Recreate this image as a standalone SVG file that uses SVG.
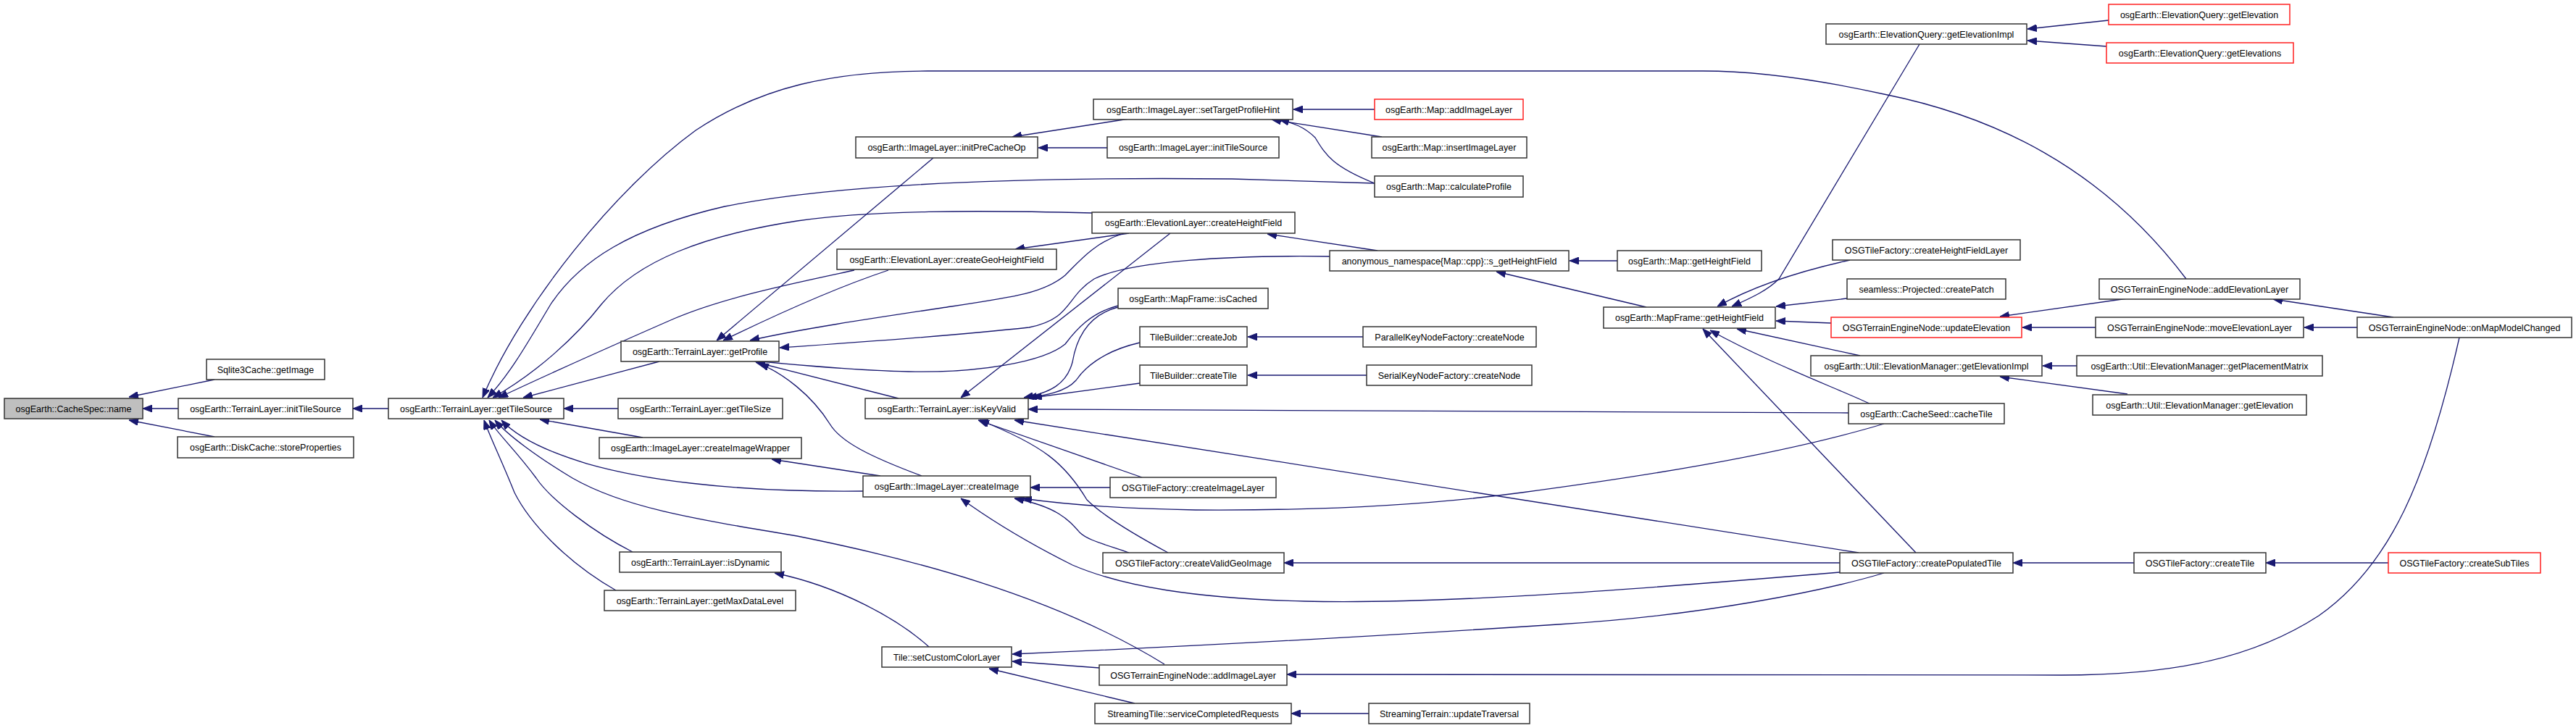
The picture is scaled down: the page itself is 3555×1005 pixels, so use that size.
<svg xmlns="http://www.w3.org/2000/svg" width="3555" height="1005" viewBox="0 0 3555 1005">
<defs>
<marker id="a" markerWidth="13" markerHeight="10" refX="13" refY="5" orient="auto" markerUnits="userSpaceOnUse"><path d="M0,0 L13,5 L0,10 z" fill="#191970" stroke="#191970" stroke-width="1"/></marker>
</defs>
<style>
.n rect{fill:#fff;stroke:#333;stroke-width:1.5}
.r rect{stroke:#ff2020}
.root rect{fill:#bfbfbf}
text{font-family:"Liberation Sans",Arial,sans-serif;font-size:12.5px;text-anchor:middle;fill:#000}
#edges path{fill:none;stroke:#191970;stroke-width:1.3;marker-end:url(#a)}
</style>
<rect width="3555" height="1005" fill="#fff"/>
<g id="edges">
<path d="M246,564 L197,564"/>
<path d="M296,524 L178,548"/>
<path d="M296,603 L178,580"/>
<path d="M536,564 L487,564"/>
<path d="M910,499 L722,549"/>
<path d="M853,564 L778,564"/>
<path d="M887,604 L745,579"/>
<path d="M1191,678 C1000,680 880,660 810,640 C760,625 715,605 692,580"/>
<path d="M1607,917 C1450,820 1250,770 1100,740 C950,715 860,700 790,660 C740,630 700,600 683,580"/>
<path d="M873,762 C820,735 760,690 740,660 C712,622 688,600 675,580"/>
<path d="M850,815 C780,775 730,720 710,680 C692,635 677,605 668,580"/>
<path d="M1897,253 L1700,247 C1400,244 1150,255 1000,285 C870,315 800,360 760,420 C730,470 705,515 673,549"/>
<path d="M1507,294 C1350,290 1200,290 1100,305 C970,325 880,360 830,420 C795,465 740,515 680,549"/>
<path d="M1179,373 C1100,390 1000,410 930,440 C850,475 760,515 688,549"/>
<path d="M3017,385 C2900,230 2750,160 2600,130 C2500,108 2420,98 2350,98 L1280,98 C1150,98 1050,120 960,180 C850,260 720,420 666,549"/>
<path d="M1551,322 C1510,335 1490,360 1470,380 C1440,405 1400,410 1300,425 C1200,440 1100,455 1035,470"/>
<path d="M1558,322 L1401,344"/>
<path d="M1615,322 L1326,549"/>
<path d="M1288,218 L989,470"/>
<path d="M1226,373 C1160,395 1080,430 998,470"/>
<path d="M1835,354 C1700,352 1560,360 1510,385 C1470,410 1480,440 1420,452 C1300,465 1150,475 1076,480"/>
<path d="M1543,422 C1505,432 1485,455 1470,475 C1440,500 1350,515 1254,513 C1170,511 1090,503 1040,498"/>
<path d="M1543,424 C1500,435 1485,470 1480,500 C1472,530 1450,542 1413,549"/>
<path d="M1573,473 C1520,485 1495,510 1485,525 C1470,542 1440,546 1418,549"/>
<path d="M1573,529 L1425,549"/>
<path d="M2551,570 L1419,565"/>
<path d="M2565,763 L1400,580"/>
<path d="M1576,659 L1350,580"/>
<path d="M1612,763 C1560,735 1520,710 1500,690 C1470,640 1440,615 1352,580"/>
<path d="M1240,550 L1043,500"/>
<path d="M1272,657 C1200,630 1160,610 1145,585 C1120,545 1080,515 1048,502"/>
<path d="M1215,657 L1065,634"/>
<path d="M1532,673 L1422,673"/>
<path d="M2600,585 C2450,630 2250,660 2100,680 C1950,700 1800,705 1650,704 C1530,702 1460,695 1411,688"/>
<path d="M1558,763 C1520,750 1500,745 1490,735 C1475,718 1460,700 1400,688"/>
<path d="M2539,790 C2300,810 2000,835 1800,830 C1650,826 1550,810 1480,780 C1420,750 1370,720 1326,688"/>
<path d="M2539,777 L1772,777"/>
<path d="M2600,791 C2520,815 2350,850 2150,862 C1950,875 1700,890 1397,903"/>
<path d="M1517,922 L1397,913"/>
<path d="M1566,971 L1365,923"/>
<path d="M1282,893 C1240,855 1160,810 1069,791"/>
<path d="M1889,985 L1782,985"/>
<path d="M3394,466 C3350,660 3300,780 3200,850 C3100,915 2980,932 2845,932 L1776,931"/>
<path d="M2945,777 L2778,777"/>
<path d="M3296,777 L3127,777"/>
<path d="M2644,763 L2350,454"/>
<path d="M2580,557 C2520,530 2440,500 2360,456"/>
<path d="M2567,491 L2397,454"/>
<path d="M2527,446 L2451,443"/>
<path d="M2549,412 L2451,423"/>
<path d="M2553,359 C2480,375 2420,395 2370,423"/>
<path d="M2649,61 L2455,385 C2440,400 2420,410 2390,423"/>
<path d="M2272,424 L2065,375"/>
<path d="M2232,360 L2166,360"/>
<path d="M1901,346 L1749,323"/>
<path d="M2910,28 L2798,40"/>
<path d="M2907,64 L2798,56"/>
<path d="M2936,412 L2760,437"/>
<path d="M2892,452 L2791,452"/>
<path d="M3253,452 L3180,452"/>
<path d="M3303,438 L3137,413"/>
<path d="M2866,505 L2819,505"/>
<path d="M2936,544 L2760,520"/>
<path d="M1558,164 L1397,189"/>
<path d="M1528,204 L1433,204"/>
<path d="M1897,151 L1785,151"/>
<path d="M1907,189 L1755,165"/>
<path d="M1897,253 C1840,230 1830,215 1815,190 C1800,175 1785,170 1766,165"/>
<path d="M1881,465 L1722,465"/>
<path d="M1886,518 L1722,518"/>
</g>
<g id="n_name" class="n root"><rect x="6" y="550" width="191" height="28"/><text x="101.5" y="568.5">osgEarth::CacheSpec::name</text></g>
<g id="n_sqlite" class="n"><rect x="285" y="496" width="163" height="28"/><text x="366.5" y="514.5">Sqlite3Cache::getImage</text></g>
<g id="n_tl_initTileSource" class="n"><rect x="246" y="550" width="241" height="28"/><text x="366.5" y="568.5">osgEarth::TerrainLayer::initTileSource</text></g>
<g id="n_diskcache" class="n"><rect x="245" y="603" width="243" height="29"/><text x="366.5" y="622">osgEarth::DiskCache::storeProperties</text></g>
<g id="n_getTileSource" class="n"><rect x="536" y="550" width="242" height="28"/><text x="657" y="568.5">osgEarth::TerrainLayer::getTileSource</text></g>
<g id="n_getProfile" class="n"><rect x="857" y="471" width="218" height="28"/><text x="966" y="489.5">osgEarth::TerrainLayer::getProfile</text></g>
<g id="n_getTileSize" class="n"><rect x="853" y="550" width="227" height="28"/><text x="966.5" y="568.5">osgEarth::TerrainLayer::getTileSize</text></g>
<g id="n_createImageWrapper" class="n"><rect x="827" y="604" width="279" height="29"/><text x="966.5" y="623">osgEarth::ImageLayer::createImageWrapper</text></g>
<g id="n_isDynamic" class="n"><rect x="855" y="762" width="223" height="28"/><text x="966.5" y="780.5">osgEarth::TerrainLayer::isDynamic</text></g>
<g id="n_getMaxDataLevel" class="n"><rect x="834" y="815" width="264" height="28"/><text x="966" y="833.5">osgEarth::TerrainLayer::getMaxDataLevel</text></g>
<g id="n_initPreCacheOp" class="n"><rect x="1181" y="189" width="251" height="29"/><text x="1306.5" y="208">osgEarth::ImageLayer::initPreCacheOp</text></g>
<g id="n_createGeoHeightField" class="n"><rect x="1155" y="344" width="303" height="28"/><text x="1306.5" y="362.5">osgEarth::ElevationLayer::createGeoHeightField</text></g>
<g id="n_isKeyValid" class="n"><rect x="1194" y="550" width="225" height="28"/><text x="1306.5" y="568.5">osgEarth::TerrainLayer::isKeyValid</text></g>
<g id="n_createImage" class="n"><rect x="1191" y="657" width="231" height="29"/><text x="1306.5" y="676">osgEarth::ImageLayer::createImage</text></g>
<g id="n_setCustomColorLayer" class="n"><rect x="1217" y="893" width="179" height="28"/><text x="1306.5" y="911.5">Tile::setCustomColorLayer</text></g>
<g id="n_setTargetProfileHint" class="n"><rect x="1509" y="137" width="275" height="28"/><text x="1646.5" y="155.5">osgEarth::ImageLayer::setTargetProfileHint</text></g>
<g id="n_il_initTileSource" class="n"><rect x="1528" y="189" width="237" height="29"/><text x="1646.5" y="208">osgEarth::ImageLayer::initTileSource</text></g>
<g id="n_createHeightField" class="n"><rect x="1507" y="293" width="280" height="29"/><text x="1647" y="312">osgEarth::ElevationLayer::createHeightField</text></g>
<g id="n_isCached" class="n"><rect x="1543" y="398" width="207" height="28"/><text x="1646.5" y="416.5">osgEarth::MapFrame::isCached</text></g>
<g id="n_createJob" class="n"><rect x="1573" y="451" width="148" height="28"/><text x="1647" y="469.5">TileBuilder::createJob</text></g>
<g id="n_tb_createTile" class="n"><rect x="1573" y="504" width="148" height="28"/><text x="1647" y="522.5">TileBuilder::createTile</text></g>
<g id="n_createImageLayer" class="n"><rect x="1532" y="659" width="229" height="28"/><text x="1646.5" y="677.5">OSGTileFactory::createImageLayer</text></g>
<g id="n_createValidGeoImage" class="n"><rect x="1522" y="763" width="250" height="28"/><text x="1647" y="781.5">OSGTileFactory::createValidGeoImage</text></g>
<g id="n_eng_addImageLayer" class="n"><rect x="1517" y="918" width="259" height="28"/><text x="1646.5" y="936.5">OSGTerrainEngineNode::addImageLayer</text></g>
<g id="n_serviceCompletedRequests" class="n"><rect x="1511" y="971" width="271" height="28"/><text x="1646.5" y="989.5">StreamingTile::serviceCompletedRequests</text></g>
<g id="n_map_addImageLayer" class="n r"><rect x="1897" y="137" width="205" height="28"/><text x="1999.5" y="155.5">osgEarth::Map::addImageLayer</text></g>
<g id="n_insertImageLayer" class="n"><rect x="1893" y="189" width="214" height="29"/><text x="2000" y="208">osgEarth::Map::insertImageLayer</text></g>
<g id="n_calculateProfile" class="n"><rect x="1897" y="243" width="205" height="29"/><text x="1999.5" y="262">osgEarth::Map::calculateProfile</text></g>
<g id="n_s_getHeightField" class="n"><rect x="1835" y="346" width="330" height="28"/><text x="2000" y="364.5">anonymous_namespace{Map::cpp}::s_getHeightField</text></g>
<g id="n_parallel" class="n"><rect x="1881" y="451" width="239" height="28"/><text x="2000.5" y="469.5">ParallelKeyNodeFactory::createNode</text></g>
<g id="n_serial" class="n"><rect x="1886" y="504" width="228" height="28"/><text x="2000" y="522.5">SerialKeyNodeFactory::createNode</text></g>
<g id="n_updateTraversal" class="n"><rect x="1889" y="971" width="222" height="28"/><text x="2000" y="989.5">StreamingTerrain::updateTraversal</text></g>
<g id="n_map_getHeightField" class="n"><rect x="2232" y="346" width="199" height="28"/><text x="2331.5" y="364.5">osgEarth::Map::getHeightField</text></g>
<g id="n_mf_getHeightField" class="n"><rect x="2213" y="424" width="237" height="29"/><text x="2331.5" y="443">osgEarth::MapFrame::getHeightField</text></g>
<g id="n_eq_getElevationImpl" class="n"><rect x="2520" y="33" width="277" height="28"/><text x="2658.5" y="51.5">osgEarth::ElevationQuery::getElevationImpl</text></g>
<g id="n_createHeightFieldLayer" class="n"><rect x="2529" y="331" width="259" height="28"/><text x="2658.5" y="349.5">OSGTileFactory::createHeightFieldLayer</text></g>
<g id="n_createPatch" class="n"><rect x="2549" y="385" width="219" height="28"/><text x="2658.5" y="403.5">seamless::Projected::createPatch</text></g>
<g id="n_updateElevation" class="n r"><rect x="2527" y="438" width="263" height="28"/><text x="2658.5" y="456.5">OSGTerrainEngineNode::updateElevation</text></g>
<g id="n_em_getElevationImpl" class="n"><rect x="2499" y="491" width="319" height="28"/><text x="2658.5" y="509.5">osgEarth::Util::ElevationManager::getElevationImpl</text></g>
<g id="n_cacheTile" class="n"><rect x="2551" y="557" width="215" height="28"/><text x="2658.5" y="575.5">osgEarth::CacheSeed::cacheTile</text></g>
<g id="n_createPopulatedTile" class="n"><rect x="2539" y="763" width="239" height="28"/><text x="2658.5" y="781.5">OSGTileFactory::createPopulatedTile</text></g>
<g id="n_eq_getElevation" class="n r"><rect x="2910" y="6" width="250" height="28"/><text x="3035" y="24.5">osgEarth::ElevationQuery::getElevation</text></g>
<g id="n_eq_getElevations" class="n r"><rect x="2907" y="59" width="258" height="28"/><text x="3036" y="77.5">osgEarth::ElevationQuery::getElevations</text></g>
<g id="n_addElevationLayer" class="n"><rect x="2897" y="385" width="277" height="28"/><text x="3035.5" y="403.5">OSGTerrainEngineNode::addElevationLayer</text></g>
<g id="n_moveElevationLayer" class="n"><rect x="2892" y="438" width="287" height="28"/><text x="3035.5" y="456.5">OSGTerrainEngineNode::moveElevationLayer</text></g>
<g id="n_getPlacementMatrix" class="n"><rect x="2866" y="491" width="339" height="28"/><text x="3035.5" y="509.5">osgEarth::Util::ElevationManager::getPlacementMatrix</text></g>
<g id="n_em_getElevation" class="n"><rect x="2888" y="545" width="295" height="28"/><text x="3035.5" y="563.5">osgEarth::Util::ElevationManager::getElevation</text></g>
<g id="n_osg_createTile" class="n"><rect x="2945" y="763" width="182" height="28"/><text x="3036" y="781.5">OSGTileFactory::createTile</text></g>
<g id="n_onMapModelChanged" class="n"><rect x="3253" y="438" width="296" height="28"/><text x="3401" y="456.5">OSGTerrainEngineNode::onMapModelChanged</text></g>
<g id="n_createSubTiles" class="n r"><rect x="3296" y="763" width="210" height="28"/><text x="3401" y="781.5">OSGTileFactory::createSubTiles</text></g>
</svg>
